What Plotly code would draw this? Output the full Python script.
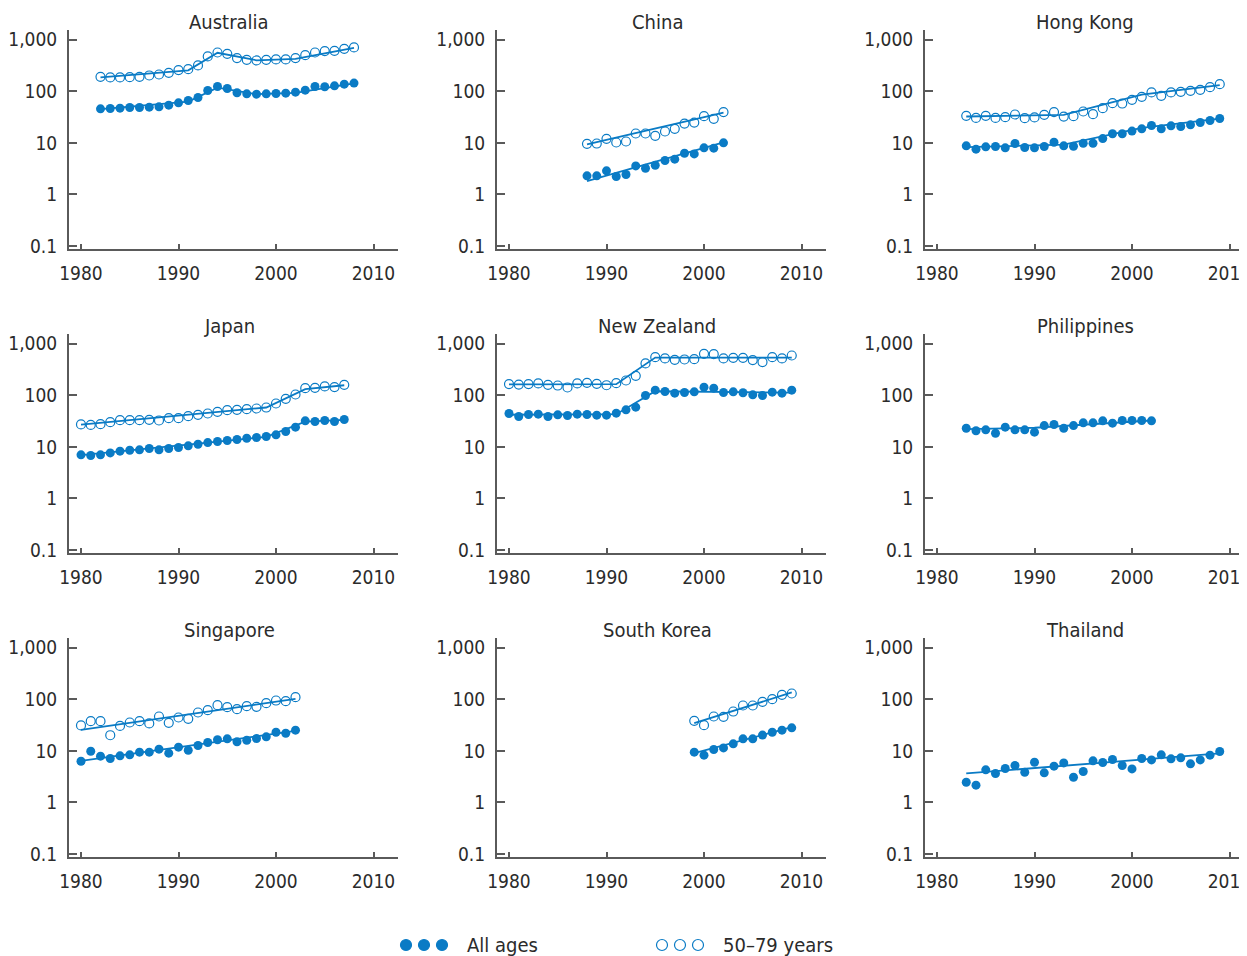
import plotly.graph_objects as go

# ---------------- data ----------------
titles = ["Australia", "China", "Hong Kong", "Japan", "New Zealand", "Philippines",
          "Singapore", "South Korea", "Thailand"]
x_ticks = [1980, 1990, 2000, 2010]
y_ticks = [0.1, 1, 10, 100, 1000]
y_tick_labels = ["0.1", "1", "10", "100", "1,000"]
legend_labels = ["All ages", "50\u201379 years"]

aus_start = 1982
aus_all = [45.7, 46.4, 47.1, 48.6, 48.6, 49.3, 50.0, 53.9, 59.8, 66.4, 75.9, 103.7, 124, 113.5,
           93.6, 89.4, 88, 89.4, 90.7, 92.1, 96.3, 105.4, 124, 122.4, 127.9, 137.8, 144.3]
aus_old = [191, 186, 186, 188.5, 191, 203, 212, 229, 258, 269, 318, 475, 567, 535, 441, 409,
           397, 409, 415, 415, 441, 504, 567, 603, 611, 668, 710]
aus_tr_yr = [1982, 1991, 1994, 1998, 2002, 2008]
aus_tr_all = [45, 63, 118, 88, 93, 143]
aus_tr_old = [187, 255, 560, 400, 425, 700]

chn_start = 1988
chn_all = [2.29, 2.29, 2.86, 2.22, 2.43, 3.57, 3.22, 3.68, 4.54, 4.82, 6.30, 6.11, 8.0, 7.88, 10.0]
chn_old = [9.57, 9.71, 11.96, 10.16, 10.63, 15.2, 15.2, 13.7, 16.6, 18.7, 23.7, 24.8, 33.0, 29.3, 39.5]
chn_tr_yr = [1988, 2002]
chn_tr_all = [1.8, 10.2]
chn_tr_old = [9.3, 38.5]

hk_start = 1983
hk_all = [8.74, 7.54, 8.36, 8.48, 8.0, 9.71, 8.13, 8.0, 8.48, 10.3, 8.74, 8.61, 9.85, 9.85,
          12.1, 15.0, 15.0, 16.9, 18.7, 21.7, 18.7, 21.4, 20.8, 22.4, 24.8, 27.2, 29.7]
hk_old = [33.4, 30.5, 33.4, 30.5, 31.5, 35.5, 30.1, 31.1, 35.0, 39.5, 32.4, 32.9, 40.6, 36.1,
          47.1, 58.9, 58.0, 68.4, 78.2, 95.0, 81.8, 95.0, 97.8, 102.3, 107, 120.5, 137.8]
hk_tr_yr = [1983, 1993, 2001, 2009]
hk_tr_all = [8.3, 9.2, 19.5, 29.5]
hk_tr_old = [32.5, 35, 86, 132]

jp_start = 1980
jp_all = [7.0, 6.79, 7.0, 7.64, 8.24, 8.61, 8.74, 9.28, 8.74, 9.28, 9.71, 10.45, 11.26, 12.1,
          12.7, 13.3, 13.9, 14.7, 15.2, 15.9, 17.1, 19.9, 24.1, 32.0, 31.1, 32.5, 31.1, 34.0]
jp_old = [27.2, 26.7, 27.5, 30.1, 32.9, 32.9, 32.9, 33.4, 32.5, 36.1, 36.1, 39.4, 41.8, 44.4,
          47.8, 51.5, 52.3, 53.9, 55.5, 58.0, 69.4, 85.5, 103.7, 137.8, 140, 148.6, 144.3, 160]
jp_tr_yr = [1980, 1999, 2003, 2007]
jp_tr_all = [6.9, 15.6, 31, 33.5]
jp_tr_old = [27, 58, 132, 157]

nz_start = 1980
nz_all = [44.4, 38.8, 42.5, 43.1, 38.8, 41.8, 40.6, 43.1, 42.5, 41.2, 41.2, 45.1, 52.3, 58.9,
          99.3, 126, 118.6, 110, 113.5, 116.9, 144, 137.8, 113.5, 116.9, 112, 102.3, 99.3,
          115.2, 110, 126]
nz_old = [165, 162, 165, 170, 160, 155, 142, 170, 175, 167, 157, 172, 194, 239, 415, 551, 519,
          489, 496, 504, 640, 630, 519, 535, 535, 482, 441, 551, 519, 593]
nz_tr_yr = [1980, 1991, 1995, 2009]
nz_tr_all = [42, 43, 120, 113]
nz_tr_old = [163, 165, 540, 540]

ph_start = 1983
ph_all = [23.0, 20.5, 21.4, 18.4, 24.1, 21.4, 21.4, 19.3, 25.9, 27.2, 23.0, 25.9, 29.2, 29.2,
          32.0, 28.8, 32.5, 32.5, 32.5, 32.0]
ph_old = []
ph_tr_yr = [1983, 1990, 2002]
ph_tr_all = [22, 23.5, 32.5]
ph_tr_old = []

sg_start = 1980
sg_all = [6.30, 9.85, 7.88, 7.10, 8.0, 8.36, 9.42, 9.42, 10.8, 9.02, 11.8, 10.3, 12.7, 14.5,
          16.4, 17.1, 15.0, 16.1, 17.4, 18.7, 23.0, 22.0, 25.2]
sg_old = [31.1, 37.7, 37.7, 20.1, 30.5, 35.5, 37.7, 34.0, 46.4, 35.0, 44.4, 41.8, 55.5, 61.6,
          77.1, 70.4, 64.4, 73.6, 71.5, 84.3, 94.8, 92.1, 110]
sg_tr_yr = [1980, 2002]
sg_tr_all = [6.4, 24.5]
sg_tr_old = [25.6, 102]

kr_start = 1999
kr_all = [9.42, 8.24, 10.6, 11.4, 13.7, 17.1, 17.1, 20.2, 23.0, 25.2, 28.0]
kr_old = [38.3, 31.5, 46.4, 45.7, 58.0, 75.9, 75.9, 89.3, 100.7, 122, 129.7]
kr_tr_yr = [1999, 2009]
kr_tr_all = [9.0, 28.8]
kr_tr_old = [34.4, 136]

th_start = 1983
th_all = [2.46, 2.16, 4.28, 3.63, 4.54, 5.19, 3.85, 6.02, 3.74, 5.04, 5.84, 3.08, 3.97, 6.40,
          5.93, 6.79, 5.19, 4.47, 7.10, 6.68, 8.36, 7.0, 7.32, 5.60, 6.68, 8.24, 9.71]
th_old = []
th_tr_yr = [1983, 2009]
th_tr_all = [3.65, 8.9]
th_tr_old = []

panels = [
    (aus_start, aus_all, aus_old, aus_tr_yr, aus_tr_all, aus_tr_old),
    (chn_start, chn_all, chn_old, chn_tr_yr, chn_tr_all, chn_tr_old),
    (hk_start, hk_all, hk_old, hk_tr_yr, hk_tr_all, hk_tr_old),
    (jp_start, jp_all, jp_old, jp_tr_yr, jp_tr_all, jp_tr_old),
    (nz_start, nz_all, nz_old, nz_tr_yr, nz_tr_all, nz_tr_old),
    (ph_start, ph_all, ph_old, ph_tr_yr, ph_tr_all, ph_tr_old),
    (sg_start, sg_all, sg_old, sg_tr_yr, sg_tr_all, sg_tr_old),
    (kr_start, kr_all, kr_old, kr_tr_yr, kr_tr_all, kr_tr_old),
    (th_start, th_all, th_old, th_tr_yr, th_tr_all, th_tr_old),
]

# ---------------- style / layout ----------------
OFF = 8                      # page body margin
W, H = 1247 - OFF, 956 - OFF  # figure size so it fills the window exactly
BLUE = "#0a7bc5"
AXC = "#5a5a5a"
TXT = "#2b2b2b"
FONT = "Liberation Sans Narrow, DejaVu Sans Condensed, Noto Sans, sans-serif"
TICK_SIZE = 19
TITLE_SIZE = 20

# pixel positions in the window
col_px = [(69, 398), (497, 826), (925, 1247)]
row_px = [(30, 248.5), (334, 552.5), (638, 856.5)]
x_first_tick = [81, 509, 937]
px_per_year = 9.75
y_top_val = 3.19
y_bot_val = -1.05


def px_x(p):
    return (p - OFF) / W


def px_y(p):
    return 1 - (p - OFF) / H


fig = go.Figure()
layout = dict(width=W, height=H, margin=dict(l=0, r=0, t=0, b=0, pad=0),
              paper_bgcolor="white", plot_bgcolor="white", showlegend=False,
              font=dict(family=FONT, color=TXT, size=TICK_SIZE))
annotations = []
shapes = []

for i, (start, v_all, v_old, tr_yr, tr_all, tr_old) in enumerate(panels):
    r, c = divmod(i, 3)
    sfx = "" if i == 0 else str(i + 1)
    xa, ya = "x" + sfx, "y" + sfx
    x0p, x1p = col_px[c]
    y0p, y1p = row_px[r]
    xr = [1980 + (x0p - x_first_tick[c]) / px_per_year,
          1980 + (x1p - x_first_tick[c]) / px_per_year]
    layout["xaxis" + sfx] = dict(
        domain=[px_x(x0p), min(1.0, px_x(x1p))], range=xr, anchor=ya, automargin=False,
        showline=True, linecolor=AXC, linewidth=2, ticks="inside", ticklen=5,
        tickwidth=1.5, tickcolor=AXC, tickvals=x_ticks, showgrid=False, zeroline=False,
        tickfont=dict(family=FONT, size=TICK_SIZE, color=TXT), ticklabelstandoff=7,
        ticklabeloverflow="allow")
    layout["yaxis" + sfx] = dict(
        domain=[px_y(y1p), px_y(y0p)], type="log", range=[y_bot_val, y_top_val],
        anchor=xa, automargin=False, showline=True, linecolor=AXC, linewidth=2,
        ticks="inside", ticklen=8, tickwidth=1.5, tickcolor=AXC, tickvals=y_ticks,
        ticktext=y_tick_labels, showgrid=False, zeroline=False,
        tickfont=dict(family=FONT, size=TICK_SIZE, color=TXT), ticklabelstandoff=6,
        ticklabeloverflow="allow")

    yrs_all = [start + k for k in range(len(v_all))]
    yrs_old = [start + k for k in range(len(v_old))]
    if tr_old:
        fig.add_trace(go.Scatter(x=tr_yr, y=tr_old, mode="lines", xaxis=xa, yaxis=ya,
                                 line=dict(color=BLUE, width=1.8)))
    fig.add_trace(go.Scatter(x=tr_yr, y=tr_all, mode="lines", xaxis=xa, yaxis=ya,
                             line=dict(color=BLUE, width=1.8)))
    if v_old:
        fig.add_trace(go.Scatter(x=yrs_old, y=v_old, mode="markers", xaxis=xa, yaxis=ya,
                                 marker=dict(symbol="circle-open", size=9, color=BLUE,
                                             line=dict(width=1.2, color=BLUE))))
    fig.add_trace(go.Scatter(x=yrs_all, y=v_all, mode="markers", xaxis=xa, yaxis=ya,
                             marker=dict(symbol="circle", size=9, color=BLUE)))

    annotations.append(dict(text=titles[i], xref=xa, x=1995.2, yref="paper",
                            y=px_y(y0p - 8), xanchor="center", yanchor="middle",
                            showarrow=False,
                            font=dict(family=FONT, size=TITLE_SIZE, color=TXT)))

# legend (drawn as shapes + text)
leg_y = px_y(945)
for j, (cx_list, txt_x, filled) in enumerate([((406, 424, 442), 465, True),
                                              ((662, 680, 698), 721, False)]):
    for cx in cx_list:
        shapes.append(dict(type="circle", xref="paper", yref="paper",
                           xsizemode="pixel", ysizemode="pixel",
                           xanchor=px_x(cx), yanchor=leg_y, x0=-5.5, x1=5.5, y0=-5.5, y1=5.5,
                           fillcolor=BLUE if filled else "white",
                           line=dict(color=BLUE, width=1.2)))
    annotations.append(dict(text=legend_labels[j], xref="paper", yref="paper",
                            x=px_x(txt_x), y=leg_y, xanchor="left", yanchor="middle",
                            showarrow=False,
                            font=dict(family=FONT, size=TITLE_SIZE, color=TXT)))

layout["annotations"] = annotations
layout["shapes"] = shapes
fig.update_layout(**layout)
fig.write_html("out.html")
